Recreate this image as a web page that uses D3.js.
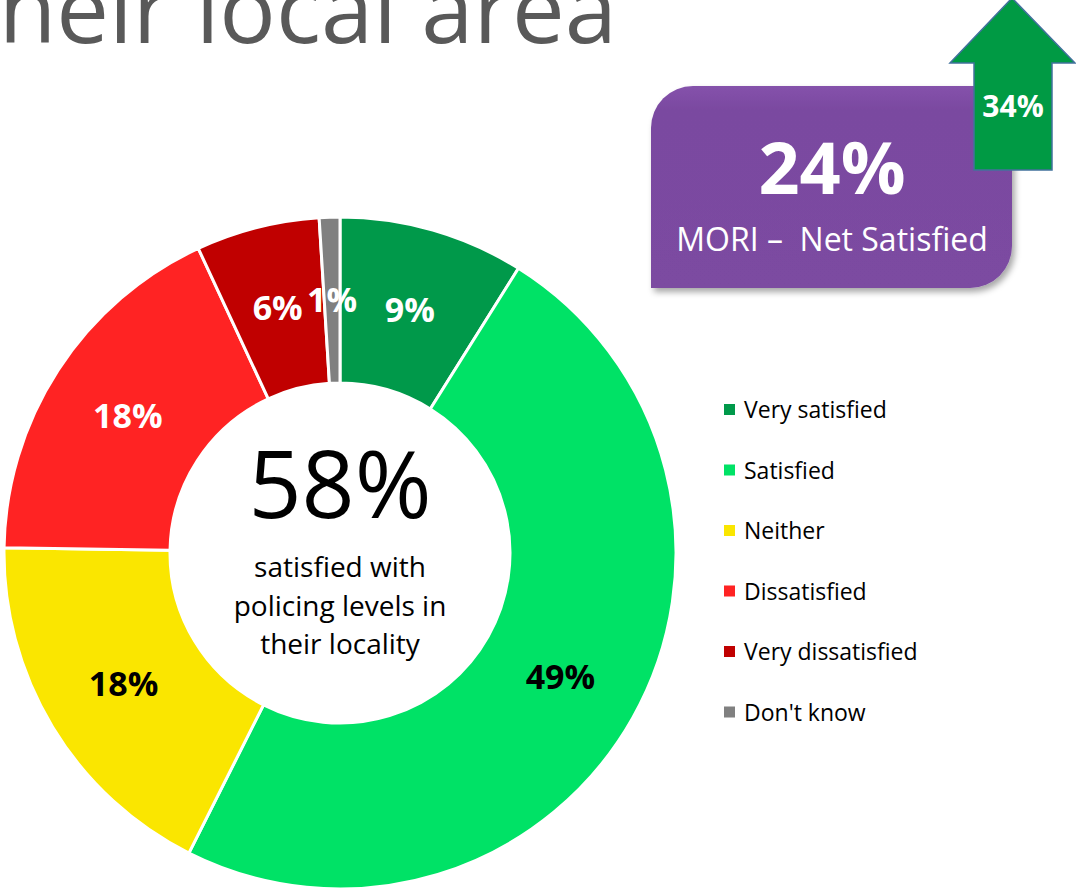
<!DOCTYPE html>
<html>
<head>
<meta charset="utf-8">
<script src="https://cdn.jsdelivr.net/npm/d3@7"></script>
<style>
  body { margin: 0; background: #fff; }
  svg { display: block; font-family: 'Open Sans', sans-serif; }
</style>
</head>
<body>
<div id="chart"></div>
<script>
// --- data ---
const categories = ['Very satisfied', 'Satisfied', 'Neither', 'Dissatisfied', 'Very dissatisfied', "Don't know"];
const values = [9, 49, 18, 18, 6, 1];
const colours = ['#00994a', '#00e266', '#fae600', '#ff2323', '#c00000', '#808080'];
const labelColours = ['#fff', '#000', '#000', '#fff', '#fff', '#fff'];
const centreBig = '58%';
const centreLines = ['satisfied with', 'policing levels in', 'their locality'];
const netValue = '24%';
const netLabel = 'MORI \u2013\u00a0 Net Satisfied';
const arrowValue = '34%';

const width = 1076, height = 890;
const cx = 340, cy = 553;
const outerR = 336, innerR = 170;

const svg = d3.select('#chart')
  .append('svg')
  .attr('width', width)
  .attr('height', height);

const defs = svg.append('defs');
const grad = defs.append('linearGradient')
  .attr('id', 'purple')
  .attr('x1', 0).attr('y1', 0).attr('x2', 0).attr('y2', 1);
grad.append('stop').attr('offset', '0%').attr('stop-color', '#8552ab');
grad.append('stop').attr('offset', '12%').attr('stop-color', '#7a49a0');
grad.append('stop').attr('offset', '100%').attr('stop-color', '#7b4ba1');
const shadow = defs.append('filter').attr('id', 'shadow')
  .attr('x', '-10%').attr('y', '-10%').attr('width', '130%').attr('height', '130%');
shadow.append('feDropShadow')
  .attr('dx', 3).attr('dy', 4).attr('stdDeviation', 3)
  .attr('flood-color', '#000').attr('flood-opacity', 0.35);

// title fragment, cut by the top edge like the slide it came from
svg.append('text')
  .attr('x', 617)
  .attr('y', 43)
  .attr('text-anchor', 'end')
  .attr('fill', '#595959')
  .style('font-size', '94px')
  .text('their local area');

// --- donut ---
const pie = d3.pie().sort(null).value((d) => d.value);
const arc = d3.arc().innerRadius(innerR).outerRadius(outerR);
const labelArc = d3.arc().innerRadius((innerR + outerR) / 2).outerRadius((innerR + outerR) / 2);

const rows = categories.map((c, i) => ({
  name: c,
  value: values[i],
  colour: colours[i],
  labelColour: labelColours[i],
}));

const g = svg.append('g').attr('transform', `translate(${cx},${cy})`);

g.selectAll('path')
  .data(pie(rows))
  .join('path')
  .attr('d', arc)
  .attr('fill', (d) => d.data.colour)
  .attr('stroke', '#fff')
  .attr('stroke-width', 3)
  .attr('stroke-linejoin', 'round');

g.selectAll('text.lbl')
  .data(pie(rows))
  .join('text')
  .attr('class', 'lbl')
  .attr('transform', (d) => `translate(${labelArc.centroid(d)})`)
  .attr('text-anchor', 'middle')
  .attr('dy', '0.36em')
  .attr('fill', (d) => d.data.labelColour)
  .style('font-size', '34px')
  .style('font-weight', 700)
  .text((d) => d.data.value + '%');

// centre text
g.append('text')
  .attr('text-anchor', 'middle')
  .attr('y', -35)
  .attr('fill', '#000')
  .style('font-size', '93px')
  .text(centreBig);

g.selectAll('text.sub')
  .data(centreLines)
  .join('text')
  .attr('class', 'sub')
  .attr('text-anchor', 'middle')
  .attr('y', (d, i) => 24 + i * 38.5)
  .attr('fill', '#000')
  .style('font-size', '28px')
  .text((d) => d);

// --- legend ---
const legend = svg.append('g').attr('transform', 'translate(724,410)');
const item = legend.selectAll('g')
  .data(rows)
  .join('g')
  .attr('transform', (d, i) => `translate(0,${i * 60.5})`);
item.append('rect')
  .attr('x', 0).attr('y', -6)
  .attr('width', 11).attr('height', 11)
  .attr('fill', (d) => d.colour);
item.append('text')
  .attr('x', 20)
  .attr('dy', '0.35em')
  .attr('fill', '#000')
  .style('font-size', '23px')
  .text((d) => d.name);

// --- MORI box ---
const bx = 651, by = 86, bw = 361, bh = 202, r = 42;
const boxPath = `M${bx},${by + r} A${r},${r} 0 0 1 ${bx + r},${by} L${bx + bw},${by} ` +
  `L${bx + bw},${by + bh - r} A${r},${r} 0 0 1 ${bx + bw - r},${by + bh} L${bx},${by + bh} Z`;
svg.append('path')
  .attr('d', boxPath)
  .attr('fill', 'url(#purple)')
  .attr('filter', 'url(#shadow)');

svg.append('text')
  .attr('x', 832).attr('y', 194)
  .attr('text-anchor', 'middle')
  .attr('fill', '#fff')
  .style('font-size', '72px')
  .style('font-weight', 700)
  .text(netValue);

svg.append('text')
  .attr('x', 832).attr('y', 251)
  .attr('text-anchor', 'middle')
  .attr('fill', '#fff')
  .style('font-size', '32px')
  .text(netLabel);

// --- arrow ---
const arrowPts = [[1012, -2], [1075, 63], [1052, 63], [1052, 170], [974, 170], [974, 63], [950, 63]];
svg.append('path')
  .attr('d', d3.line()(arrowPts) + 'Z')
  .attr('fill', '#009a44')
  .attr('stroke', '#41719c')
  .attr('stroke-width', 1.5);

svg.append('text')
  .attr('x', 1013).attr('y', 117)
  .attr('text-anchor', 'middle')
  .attr('fill', '#fff')
  .style('font-size', '30px')
  .style('font-weight', 700)
  .text(arrowValue);
</script>
</body>
</html>
